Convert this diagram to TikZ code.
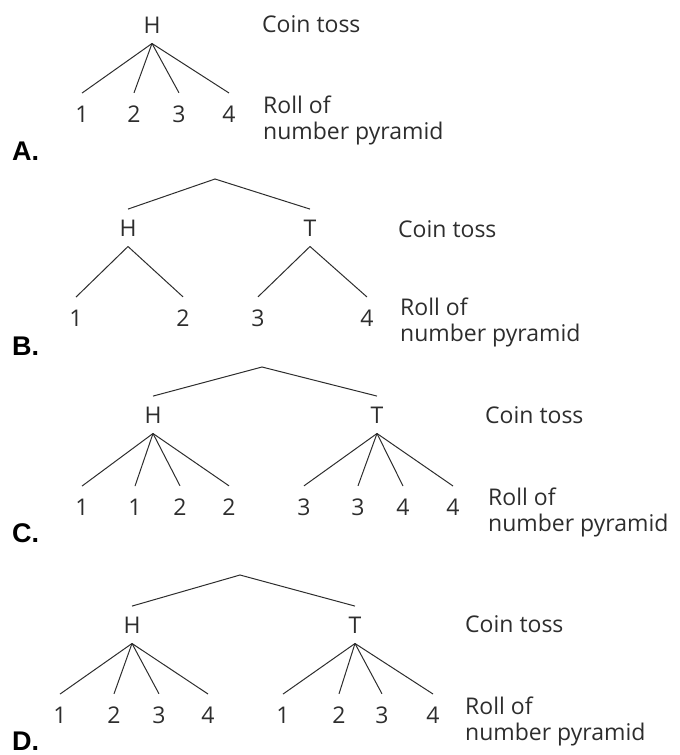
\documentclass[tikz,border=0pt]{standalone}
\usepackage{fontspec}
\usetikzlibrary{positioning}
\newfontfamily\treefont{Open Sans}
\newfontfamily\choicefont{Liberation Sans}
\definecolor{inkGrey}{HTML}{2d2d2d}

\begin{document}
\begin{tikzpicture}[
    x=1pt, y=-1pt,
    every node/.style={inner sep=0pt, text=inkGrey,
                       font=\treefont\fontsize{23}{26}\selectfont},
    toss/.style={anchor=base, outer sep=10.5pt},
    roll/.style={anchor=base, outer sep=12.5pt},
    caption/.style={anchor=base west, align=left},
    choice/.style={anchor=base west, text=black,
                   font=\choicefont\bfseries\fontsize{27}{30}\selectfont},
    branch/.style={draw=inkGrey, line width=1pt}
  ]
  \useasboundingbox (0,0) rectangle (680,755);

  % A: one coin, four rolls
  \node[toss] (hA) at (152,33) {H};
  \node[roll] (a1) at (82,122) {1};
  \node[roll] (a2) at (134,122) {2};
  \node[roll] (a3) at (179,122) {3};
  \node[roll] (a4) at (229,122) {4};
  \node[caption] (coinA) at (262,32) {Coin toss};
  \node[caption] (rollA) at (263,139) {Roll of\\number pyramid};
  \node[choice] (labA) at (12,160) {A.};

  \draw[branch] (hA.south) -- (a1.north);
  \draw[branch] (hA.south) -- (a2.north);
  \draw[branch] (hA.south) -- (a3.north);
  \draw[branch] (hA.south) -- (a4.north);

  % B
  \coordinate (topB) at (215,179);
  \node[toss] (hB) at (128,236) {H};
  \node[toss] (tB) at (310,236) {T};
  \node[roll] (b1) at (76,326) {1};
  \node[roll] (b2) at (183,326) {2};
  \node[roll] (b3) at (258,326) {3};
  \node[roll] (b4) at (367,326) {4};
  \node[caption] (coinB) at (398,237) {Coin toss};
  \node[caption] (rollB) at (400,341) {Roll of\\number pyramid};
  \node[choice] (labB) at (12,355) {B.};

  \draw[branch] (hB.north) -- (topB) -- (tB.north);
  \draw[branch] (hB.south) -- (b1.north);
  \draw[branch] (hB.south) -- (b2.north);
  \draw[branch] (tB.south) -- (b3.north);
  \draw[branch] (tB.south) -- (b4.north);

  % C
  \coordinate (topC) at (262,367);
  \node[toss] (hC) at (153,423) {H};
  \node[toss] (tC) at (377,423) {T};
  \node[roll] (c1) at (82,515) {1};
  \node[roll] (c2) at (135,515) {1};
  \node[roll] (c3) at (180,515) {2};
  \node[roll] (c4) at (229,515) {2};
  \node[roll] (c5) at (304,515) {3};
  \node[roll] (c6) at (358,515) {3};
  \node[roll] (c7) at (403,515) {4};
  \node[roll] (c8) at (453,515) {4};
  \node[caption] (coinC) at (485,423) {Coin toss};
  \node[caption] (rollC) at (488,531) {Roll of\\number pyramid};
  \node[choice] (labC) at (12,542) {C.};

  \draw[branch] (hC.north) -- (topC) -- (tC.north);
  \draw[branch] (hC.south) -- (c1.north);
  \draw[branch] (hC.south) -- (c2.north);
  \draw[branch] (hC.south) -- (c3.north);
  \draw[branch] (hC.south) -- (c4.north);
  \draw[branch] (tC.south) -- (c5.north);
  \draw[branch] (tC.south) -- (c6.north);
  \draw[branch] (tC.south) -- (c7.north);
  \draw[branch] (tC.south) -- (c8.north);

  % D
  \coordinate (topD) at (240,575);
  \node[toss] (hD) at (132,633) {H};
  \node[toss] (tD) at (355,633) {T};
  \node[roll] (d1) at (60,723) {1};
  \node[roll] (d2) at (114,723) {2};
  \node[roll] (d3) at (159,723) {3};
  \node[roll] (d4) at (208,723) {4};
  \node[roll] (d5) at (283,723) {1};
  \node[roll] (d6) at (339,723) {2};
  \node[roll] (d7) at (382,723) {3};
  \node[roll] (d8) at (433,723) {4};
  \node[caption] (coinD) at (465,632) {Coin toss};
  \node[caption] (rollD) at (465,740) {Roll of\\number pyramid};
  \node[choice] (labD) at (12,750) {D.};

  \draw[branch] (hD.north) -- (topD) -- (tD.north);
  \draw[branch] (hD.south) -- (d1.north);
  \draw[branch] (hD.south) -- (d2.north);
  \draw[branch] (hD.south) -- (d3.north);
  \draw[branch] (hD.south) -- (d4.north);
  \draw[branch] (tD.south) -- (d5.north);
  \draw[branch] (tD.south) -- (d6.north);
  \draw[branch] (tD.south) -- (d7.north);
  \draw[branch] (tD.south) -- (d8.north);
\end{tikzpicture}
\end{document}
